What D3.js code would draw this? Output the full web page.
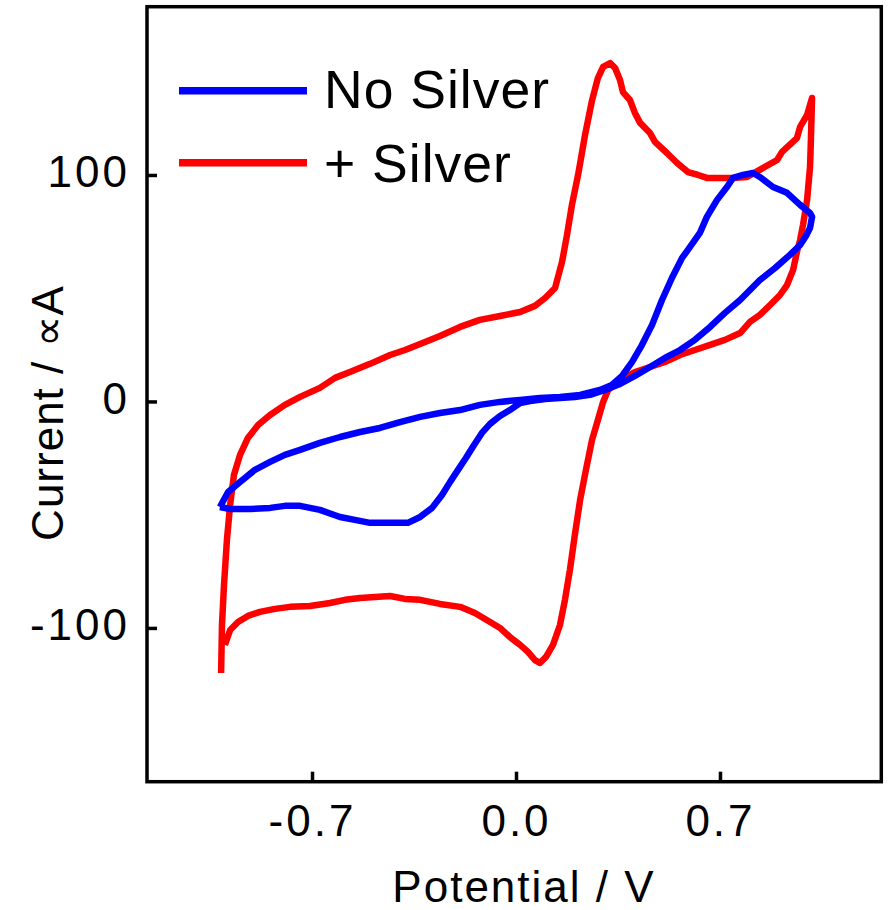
<!DOCTYPE html>
<html>
<head>
<meta charset="utf-8">
<script src="https://cdn.jsdelivr.net/npm/d3@7/dist/d3.min.js"></script>
<style>
  html, body { margin: 0; padding: 0; background: #fff; }
  svg text { font-family: "Liberation Sans", Arial, sans-serif; fill: #000; }
</style>
</head>
<body>
<svg id="chart" width="892" height="910"></svg>
<script>
// ---- data (Potential / V, Current / uA) ----
const silverV = [-1.012,-1.009,-1.002,-0.992,-0.981,-0.968,-0.947,-0.920,-0.885,-0.844,-0.793,-0.741,-0.673,-0.621,-0.570,-0.501,-0.432,-0.381,-0.329,-0.261,-0.192,-0.124,-0.055,0.014,0.065,0.100,0.134,0.158,0.175,0.192,0.213,0.237,0.261,0.281,0.299,0.323,0.340,0.357,0.367,0.391,0.408,0.426,0.460,0.477,0.518,0.553,0.590,0.625,0.655,0.745,0.793,0.848,0.896,0.913,0.964,0.975,0.999,1.016,
  1.012,1.009,0.999,0.985,0.975,0.964,0.951,0.930,0.906,0.872,0.837,0.803,0.769,0.717,0.666,0.614,0.563,0.511,0.460,0.408,0.357,0.316,0.299,0.281,0.261,0.240,0.220,0.202,0.185,0.168,0.151,0.127,0.103,0.082,0.065,0.041,0.014,-0.021,-0.055,-0.089,-0.141,-0.192,-0.261,-0.329,-0.381,-0.432,-0.484,-0.535,-0.587,-0.638,-0.707,-0.776,-0.827,-0.879,-0.920,-0.954,-0.981,-0.999];
const silverI = [-119.9,-98.7,-81.0,-61.1,-45.7,-32.5,-23.6,-16.1,-10.4,-6.0,-1.5,2.0,6.0,10.4,13.0,16.6,20.5,22.7,25.4,28.9,32.9,36.0,37.7,39.5,42.2,45.7,50.1,61.6,73.5,86.8,100.0,117.7,133.0,142.8,147.7,149.4,147.2,141.9,136.6,133.1,127.4,123.0,118.5,114.6,109.7,105.3,101.3,100.0,98.7,98.7,99.1,103.1,106.6,110.2,116.3,121.2,126.5,134.0,
  115.5,103.5,89.0,78.0,71.3,66.0,58.1,51.4,47.0,42.6,38.2,35.1,30.2,27.2,25.0,22.7,20.5,17.4,15.2,13.0,9.5,5.1,-0.2,-8.2,-17.0,-30.2,-43.5,-58.9,-74.4,-87.6,-98.7,-107.5,-112.8,-115.5,-114.2,-110.6,-107.5,-104.0,-100.0,-97.4,-93.4,-90.7,-89.4,-87.6,-87.2,-85.9,-86.3,-86.8,-87.6,-89.0,-90.3,-90.7,-91.6,-92.9,-94.7,-97.4,-100.9,-107.5];

const noSilverV = [-1.016,-0.988,-0.947,-0.896,-0.844,-0.793,-0.741,-0.673,-0.604,-0.535,-0.467,-0.398,-0.329,-0.261,-0.192,-0.124,-0.055,0.014,0.082,0.151,0.220,0.288,0.329,0.364,0.398,0.432,0.467,0.501,0.535,0.570,0.590,0.631,0.655,0.690,0.724,0.745,0.779,0.813,0.837,0.882,0.930,0.975,1.009,1.016,
  1.009,0.995,0.975,0.940,0.889,0.837,0.803,0.769,0.717,0.666,0.614,0.563,0.511,0.460,0.408,0.357,0.305,0.254,0.202,0.151,0.100,0.048,0.014,-0.021,-0.055,-0.089,-0.117,-0.144,-0.172,-0.199,-0.226,-0.254,-0.288,-0.329,-0.371,-0.415,-0.467,-0.501,-0.553,-0.604,-0.673,-0.741,-0.793,-0.844,-0.913,-0.981,-1.016];
const noSilverI = [-46.6,-40.0,-35.6,-30.2,-26.7,-23.6,-21.4,-18.3,-15.7,-13.5,-11.7,-9.1,-6.8,-5.1,-3.8,-1.5,-0.2,0.7,1.5,2.0,2.9,5.1,7.3,11.3,17.4,24.9,33.8,44.8,54.5,63.4,66.9,74.4,81.5,89.0,94.7,98.7,100.0,100.9,99.1,94.7,92.1,86.8,83.2,81.5,
  76.6,73.1,69.1,64.7,58.9,53.6,49.2,44.8,39.1,32.9,27.2,22.7,19.2,15.2,11.3,7.7,5.1,2.9,2.0,1.5,1.1,0.2,-0.7,-3.8,-6.4,-9.9,-13.9,-19.2,-25.0,-30.2,-35.5,-41.3,-47.0,-51.0,-53.6,-53.6,-53.6,-53.6,-52.3,-51.0,-47.9,-46.1,-46.1,-47.0,-47.5,-47.5,-46.6];

const xTicks = [-0.7, 0.0, 0.7];
const xTickLabels = ["-0.7", "0.0", "0.7"];
const yTicks = [-100, 0, 100];
const yTickLabels = ["-100", "0", "100"];
const seriesNames = ["No Silver", "+ Silver"];
const seriesColors = ["#0000ff", "#ff0000"];
const xTitle = "Potential / V";
const yTitle = "Current / \u221DA";

// ---- layout ----
const plot = { left: 147, right: 881.3, top: 6.7, bottom: 781.7 };
const x = d3.scaleLinear().domain([-1.2663, 1.2536]).range([plot.left, plot.right]);
const y = d3.scaleLinear().domain([-167.9, 174.3]).range([plot.bottom, plot.top]);

const svg = d3.select("#chart");

// series
const line = d3.line().x(d => x(d[0])).y(d => y(d[1]));
const redPts = silverV.map((v, i) => [v, silverI[i]]);
const bluePts = noSilverV.map((v, i) => [v, noSilverI[i]]);

svg.append("path").datum(redPts).attr("d", line)
  .attr("fill", "none").attr("stroke", seriesColors[1]).attr("stroke-width", 6.5)
  .attr("stroke-linejoin", "round").attr("stroke-linecap", "butt");
svg.append("path").datum(bluePts).attr("d", line)
  .attr("fill", "none").attr("stroke", seriesColors[0]).attr("stroke-width", 6.5)
  .attr("stroke-linejoin", "round").attr("stroke-linecap", "butt");

// axes (inward ticks)
const xAxis = d3.axisBottom(x).tickValues(xTicks)
  .tickFormat((d, i) => xTickLabels[i]).tickSizeInner(-10).tickSizeOuter(0).tickPadding(23);
const yAxis = d3.axisLeft(y).tickValues(yTicks)
  .tickFormat((d, i) => yTickLabels[i]).tickSizeInner(-10).tickSizeOuter(0).tickPadding(17);

const gx = svg.append("g").attr("transform", `translate(0,${plot.bottom})`).call(xAxis);
const gy = svg.append("g").attr("transform", `translate(${plot.left},0)`).call(yAxis);
[gx, gy].forEach(g => {
  g.select(".domain").remove();
  g.selectAll(".tick line").attr("stroke", "#000").attr("stroke-width", 3.5);
  g.selectAll(".tick text").attr("font-family", "Liberation Sans, Arial, sans-serif")
    .attr("font-size", 44).attr("fill", "#000").attr("letter-spacing", 3);
});
gy.selectAll(".tick text").attr("dy", "0.27em");

// frame
svg.append("rect")
  .attr("x", plot.left).attr("y", plot.top)
  .attr("width", plot.right - plot.left).attr("height", plot.bottom - plot.top)
  .attr("fill", "none").attr("stroke", "#000").attr("stroke-width", 3.5);

// titles
svg.append("text").attr("x", 524).attr("y", 902).attr("text-anchor", "middle")
  .attr("font-size", 44).attr("letter-spacing", 2).text(xTitle);
svg.append("text").attr("transform", "translate(63,413) rotate(-90)")
  .attr("text-anchor", "middle").attr("font-size", 44).attr("letter-spacing", 1).text(yTitle);

// legend
const leg = svg.append("g");
seriesNames.forEach((name, i) => {
  const yy = 90.7 + i * 72;
  leg.append("line").attr("x1", 179).attr("x2", 307).attr("y1", yy).attr("y2", yy)
    .attr("stroke", seriesColors[i]).attr("stroke-width", 7.5);
  leg.append("text").attr("x", 324).attr("y", 108.3 + i * 73.4)
    .attr("font-size", 53.5).attr("letter-spacing", 1).text(name);
});
</script>
</body>
</html>
